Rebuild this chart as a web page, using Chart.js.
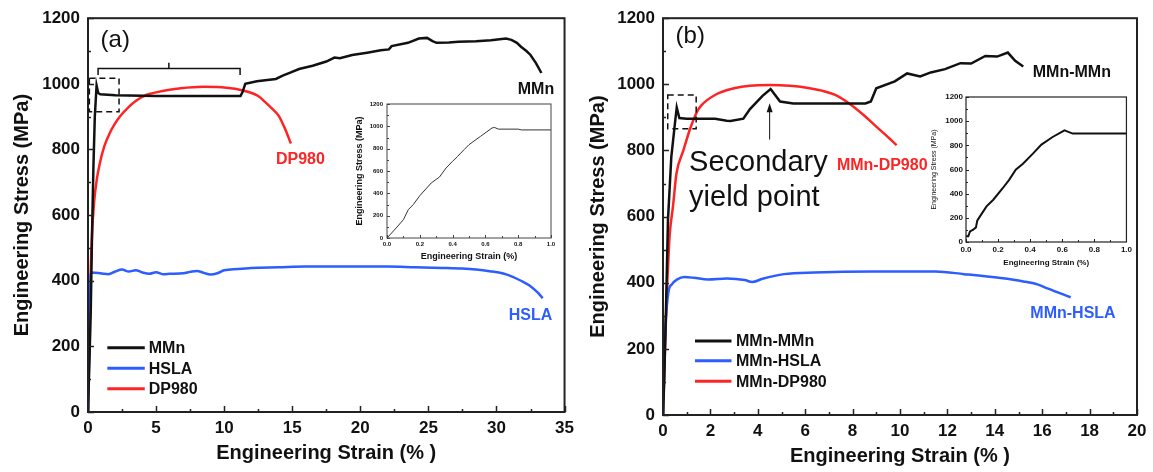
<!DOCTYPE html>
<html>
<head>
<meta charset="utf-8">
<script src="https://cdn.jsdelivr.net/npm/chart.js@4.4.1/dist/chart.umd.min.js"></script>
<style>
  body { margin: 0; background: #fff; }
  #wrap { position: relative; width: 1153px; height: 472px; overflow: hidden; }
  canvas { position: absolute; }
</style>
</head>
<body>
<div id="wrap">
  <canvas id="chartA" width="580" height="472" style="left:0;top:0"></canvas>
  <canvas id="chartB" width="573" height="472" style="left:580px;top:0"></canvas>
  <canvas id="insetA" width="215" height="175" style="left:345px;top:92px"></canvas>
  <canvas id="insetB" width="215" height="185" style="left:920px;top:85px"></canvas>
</div>
<script>
// (a) single sheets
const mmnStrain = [0, 0.2, 0.3, 0.4, 0.5, 0.63, 0.75, 0.9, 2, 5, 8, 11.2, 11.35, 11.55, 12.4, 13.8, 14.3, 14.9, 15.5, 16.5, 17.5, 18.1, 18.5, 19.4, 20.5, 21.5, 22.1, 22.3, 23.5, 24.3, 24.9, 25.3, 25.6, 26.5, 27.2, 28.5, 29.6, 30.7, 31.1, 31.5, 31.8, 32.2, 32.5, 32.9, 33.3];
const mmnStress = [0, 300, 550, 750, 900, 995, 972, 968, 965, 963, 963, 963, 975, 1000, 1008, 1015, 1025, 1035, 1045, 1055, 1068, 1080, 1078, 1088, 1095, 1102, 1105, 1115, 1125, 1138, 1140, 1130, 1125, 1126, 1128, 1130, 1133, 1138, 1134, 1125, 1113, 1100, 1088, 1063, 1033];
const hslaStrain = [0, 0.1, 0.15, 0.2, 0.3, 1, 1.5, 2, 2.5, 3, 3.5, 4, 4.5, 5, 5.5, 6, 7, 7.5, 8, 8.5, 9, 9.5, 10, 11, 12, 14, 16, 20, 22, 24, 26, 27.5, 28.5, 29.5, 30.5, 31.2, 31.8, 32.4, 33, 33.4];
const hslaStress = [0, 200, 350, 420, 425, 422, 420, 428, 434, 428, 432, 425, 421, 426, 420, 421, 423, 427, 430, 424, 419, 423, 432, 436, 439, 441, 443, 443, 443, 441, 439, 437, 434, 429, 422, 412, 400, 386, 365, 347];
const dpStrain = [0, 0.1, 0.2, 0.3, 0.45, 0.65, 0.87, 1.2, 1.6, 2.0, 2.33, 3, 3.5, 4.27, 5, 6, 6.7, 8.4, 9.5, 10.3, 11.06, 11.8, 12.5, 13, 13.5, 14, 14.5, 14.9];
const dpStress = [0, 250, 430, 545, 640, 710, 758, 810, 850, 880, 900, 930, 948, 966, 974, 982, 986, 991, 990, 987, 983, 975, 963, 945, 925, 903, 860, 818];

// (b) joints
const mmStrain = [0, 0.05, 0.12, 0.21, 0.35, 0.5, 0.58, 0.69, 1, 2.2, 2.69, 2.85, 3.39, 3.67, 4.2, 4.54, 4.94, 5.5, 8.54, 8.77, 9.0, 9.78, 10.3, 10.85, 11.3, 11.9, 12.55, 13.0, 13.6, 14.1, 14.55, 14.86, 15.2];
const mmStress = [0, 100, 300, 590, 780, 880, 930, 898, 896, 896, 890, 889, 896, 925, 965, 986, 948, 942, 942, 948, 988, 1009, 1033, 1024, 1036, 1046, 1064, 1063, 1086, 1084, 1096, 1071, 1054];
const mhStrain = [0, 0.05, 0.1, 0.15, 0.25, 0.37, 0.6, 0.9, 1.3, 1.9, 2.7, 3.45, 3.76, 4.2, 5.1, 6.4, 8.85, 11.5, 12.7, 14.25, 15.2, 15.8, 16.25, 17.2];
const mhStress = [0, 150, 260, 320, 380, 395, 410, 417, 415, 410, 413, 408, 402, 412, 426, 431, 434, 434, 426, 414, 404, 395, 382, 356];
const mdStrain = [0, 0.05, 0.1, 0.18, 0.26, 0.3, 0.42, 0.57, 0.86, 1.14, 1.42, 1.6, 2.25, 3, 3.67, 4.5, 5.36, 5.8, 6.7, 7.33, 7.9, 8.5, 9.0, 9.47, 9.86];
const mdStress = [0, 120, 240, 400, 520, 560, 630, 731, 800, 865, 915, 935, 970, 988, 996, 998, 996, 993, 981, 966, 940, 905, 872, 842, 816];

// insets: elastic part, strain 0-1 %
const insetAStrain = [0, 0.05, 0.1, 0.13, 0.16, 0.2, 0.27, 0.32, 0.36, 0.4, 0.43, 0.47, 0.5, 0.57, 0.64, 0.655, 0.68, 0.8, 0.82, 1.0];
const insetAStress = [0, 80, 164, 254, 299, 379, 493, 546, 627, 687, 730, 791, 836, 910, 985, 990, 975, 975, 968, 968];
const insetBStrain = [0, 0.014, 0.025, 0.045, 0.062, 0.07, 0.087, 0.128, 0.17, 0.23, 0.27, 0.31, 0.355, 0.417, 0.47, 0.54, 0.614, 0.63, 0.665, 1.0];
const insetBStress = [47, 47, 88, 102, 121, 176, 212, 295, 350, 447, 516, 599, 648, 731, 806, 869, 924, 916, 897, 897];

const FONT = '"Liberation Sans", Arial, sans-serif';
const BLACK = '#111111';
const RED = '#ff2424';
const BLUE = '#2d5cff';

const pts = (xs, ys) => xs.map((x, i) => ({ x: x, y: ys[i] }));

function steps(max, step) {
    const out = [];
    for (let v = 0; v <= max + 1e-9; v += step) out.push(+v.toFixed(4));
    return out;
}

// box around plot + inward tick marks
const frame = {
    id: 'frame',
    afterDatasetsDraw(chart, args, o) {
        const { ctx, chartArea: a, scales: { x, y } } = chart;
        ctx.save();
        ctx.strokeStyle = o.color;
        ctx.lineWidth = o.width;
        ctx.strokeRect(a.left, a.top, a.width, a.height);
        ctx.lineWidth = o.tickWidth;
        ctx.beginPath();
        steps(o.xMax, o.xMinor).forEach(v => {
            const px = Math.round(x.getPixelForValue(v)) + 0.5;
            const len = Math.abs(v / o.xMajor - Math.round(v / o.xMajor)) < 1e-6 ? o.major : o.minor;
            ctx.moveTo(px, a.bottom); ctx.lineTo(px, a.bottom - len);
        });
        steps(o.yMax, o.yMinor).forEach(v => {
            const py = Math.round(y.getPixelForValue(v)) + 0.5;
            const len = Math.abs(v / o.yMajor - Math.round(v / o.yMajor)) < 1e-6 ? o.major : o.minor;
            ctx.moveTo(a.left, py); ctx.lineTo(a.left + len, py);
        });
        ctx.stroke();
        ctx.restore();
    }
};

// labels, legend, dashed box, bracket, arrow
const notes = {
    id: 'notes',
    afterDraw(chart, args, o) {
        const { ctx, scales: { x, y } } = chart;
        const X = v => x.getPixelForValue(v);
        const Y = v => y.getPixelForValue(v);
        ctx.save();
        ctx.textBaseline = 'middle';
        (o.texts || []).forEach(t => {
            ctx.font = t.font;
            ctx.fillStyle = t.color;
            ctx.textAlign = t.align || 'center';
            ctx.fillText(t.text, X(t.x), Y(t.y));
        });
        if (o.legend) {
            const L = o.legend;
            chart.data.datasets.forEach((ds, i) => {
                const yy = Y(L.y[i]);
                ctx.strokeStyle = ds.borderColor;
                ctx.lineWidth = 3;
                ctx.beginPath();
                ctx.moveTo(X(L.x0), yy); ctx.lineTo(X(L.x1), yy);
                ctx.stroke();
                ctx.fillStyle = BLACK;
                ctx.font = 'bold 16px ' + FONT;
                ctx.textAlign = 'left';
                ctx.fillText(ds.label, X(L.tx), yy + 1);
            });
        }
        if (o.box) {
            const b = o.box;
            ctx.strokeStyle = BLACK;
            ctx.lineWidth = 1.5;
            ctx.setLineDash([6, 4]);
            ctx.strokeRect(X(b.x0), Y(b.y1), X(b.x1) - X(b.x0), Y(b.y0) - Y(b.y1));
            ctx.setLineDash([]);
        }
        if (o.bracket) {
            const b = o.bracket;
            ctx.strokeStyle = BLACK;
            ctx.lineWidth = 1.5;
            ctx.beginPath();
            ctx.moveTo(X(b.x0), Y(b.yEnd)); ctx.lineTo(X(b.x0), Y(b.y));
            ctx.lineTo(X(b.x1), Y(b.y)); ctx.lineTo(X(b.x1), Y(b.yEnd));
            ctx.moveTo(X(b.xm), Y(b.y)); ctx.lineTo(X(b.xm), Y(b.yTop));
            ctx.stroke();
        }
        if (o.arrow) {
            const r = o.arrow;
            const ax = X(r.x), ay0 = Y(r.y0), ay1 = Y(r.y1);
            ctx.strokeStyle = BLACK;
            ctx.fillStyle = BLACK;
            ctx.lineWidth = 1;
            ctx.beginPath();
            ctx.moveTo(ax, ay0); ctx.lineTo(ax, ay1 + 6);
            ctx.stroke();
            ctx.beginPath();
            ctx.moveTo(ax, ay1); ctx.lineTo(ax - 3, ay1 + 9); ctx.lineTo(ax + 3, ay1 + 9);
            ctx.closePath();
            ctx.fill();
        }
        ctx.restore();
    }
};

function line(label, xs, ys, color, width, smooth) {
    return {
        label: label,
        data: pts(xs, ys),
        borderColor: color,
        borderWidth: width,
        pointRadius: 0,
        fill: false,
        tension: 0,
        cubicInterpolationMode: smooth ? 'monotone' : 'default'
    };
}

function axis(min, max, step, title, tickFont, titleFont, pad, titlePad, size, isY, fmt) {
    return {
        type: 'linear',
        min: min,
        max: max,
        grid: { display: false, drawTicks: false },
        border: { display: false },
        ticks: {
            stepSize: step,
            autoSkip: false,
            maxRotation: 0,
            padding: pad,
            color: BLACK,
            font: tickFont,
            callback: fmt || (v => v)
        },
        title: { display: true, text: title, color: BLACK, font: titleFont, padding: titlePad },
        afterFit: s => { if (isY) s.width = size; else s.height = size; }
    };
}

function build(id, datasets, sc, pad, frameOpts, noteOpts) {
    return new Chart(document.getElementById(id), {
        type: 'line',
        data: { datasets: datasets },
        options: {
            responsive: false,
            animation: false,
            events: [],
            layout: { padding: pad },
            scales: sc,
            plugins: {
                legend: { display: false },
                tooltip: { enabled: false },
                frame: frameOpts,
                notes: noteOpts
            }
        },
        plugins: [frame, notes]
    });
}

const tickBig = { family: FONT, size: 17, weight: 'bold' };
const titleBig = { family: FONT, size: 20, weight: 'bold' };
const labelFont = 'bold 16px ' + FONT;

// ---- panel (a)
build('chartA', [
    line('MMn', mmnStrain, mmnStress, BLACK, 2.5, false),
    line('HSLA', hslaStrain, hslaStress, BLUE, 2.5, true),
    line('DP980', dpStrain, dpStress, RED, 2.5, true)
], {
    x: axis(0, 35, 5, 'Engineering Strain (% )', tickBig, titleBig, 6, { top: 0, bottom: 7 }, 60, false),
    y: axis(0, 1200, 200, 'Engineering Stress (MPa)', tickBig, titleBig, 8, { top: 10, bottom: 0 }, 88, true)
}, { top: 13, right: 11, left: 0, bottom: 0 },
{ color: '#222', width: 2, tickWidth: 1.5, major: 6, minor: 3, xMax: 35, xMajor: 5, xMinor: 2.5, yMax: 1200, yMajor: 200, yMinor: 100 },
{
    texts: [
        { text: '(a)', x: 2.0, y: 1131, font: '24px ' + FONT, color: BLACK },
        { text: 'MMn', x: 32.9, y: 983, font: labelFont, color: BLACK },
        { text: 'DP980', x: 15.6, y: 770, font: labelFont, color: RED },
        { text: 'HSLA', x: 32.5, y: 295, font: labelFont, color: BLUE }
    ],
    legend: { x0: 1.42, x1: 4.17, tx: 4.46, y: [196, 133, 71] },
    box: { x0: 0.1, x1: 2.28, y0: 915, y1: 1017 },
    bracket: { x0: 0.74, x1: 11.17, xm: 5.94, y: 1047, yEnd: 1027, yTop: 1064 }
});

// ---- panel (b)
build('chartB', [
    line('MMn-MMn', mmStrain, mmStress, BLACK, 2.5, false),
    line('MMn-HSLA', mhStrain, mhStress, BLUE, 2.5, true),
    line('MMn-DP980', mdStrain, mdStress, RED, 2.5, true)
], {
    x: axis(0, 20, 2, 'Engineering Strain (% )', tickBig, titleBig, 6, { top: 0, bottom: 4 }, 57, false),
    y: axis(0, 1200, 200, 'Engineering Stress (MPa)', tickBig, titleBig, 8, { top: 6, bottom: 0 }, 83, true)
}, { top: 13, right: 16, left: 0, bottom: 0 },
{ color: '#222', width: 2, tickWidth: 1.5, major: 6, minor: 3, xMax: 20, xMajor: 2, xMinor: 1, yMax: 1200, yMajor: 200, yMinor: 100 },
{
    texts: [
        { text: '(b)', x: 1.15, y: 1146, font: '24px ' + FONT, color: BLACK },
        { text: 'MMn-MMn', x: 17.25, y: 1035, font: labelFont, color: BLACK },
        { text: 'MMn-DP980', x: 9.25, y: 755, font: labelFont, color: RED },
        { text: 'MMn-HSLA', x: 17.3, y: 308, font: labelFont, color: BLUE },
        { text: 'Secondary', x: 1.1, y: 761, font: '29px ' + FONT, color: BLACK, align: 'left' },
        { text: 'yield point', x: 1.1, y: 657, font: '29px ' + FONT, color: BLACK, align: 'left' }
    ],
    legend: { x0: 1.35, x1: 2.89, tx: 3.08, y: [224, 164, 102] },
    box: { x0: 0.2, x1: 1.4, y0: 866, y1: 968 },
    arrow: { x: 4.5, y0: 833, y1: 943 }
});

// ---- insets
const oneDec = v => v.toFixed(1);
build('insetA', [line('MMn', insetAStrain, insetAStress, '#333', 1, false)], {
    x: axis(0, 1, 0.2, 'Engineering Strain (%)', { family: FONT, size: 6, weight: 'bold' }, { family: FONT, size: 9, weight: 'bold' }, 3, { top: 0, bottom: 5 }, 29, false, oneDec),
    y: axis(0, 1200, 200, 'Engineering Stress (MPa)', { family: FONT, size: 6, weight: 'bold' }, { family: FONT, size: 9, weight: 'bold' }, 4, { top: 9, bottom: 0 }, 42, true)
}, { top: 12, right: 9, left: 0, bottom: 0 },
{ color: '#444', width: 1, tickWidth: 1, major: 3, minor: 2, xMax: 1, xMajor: 0.2, xMinor: 0.1, yMax: 1200, yMajor: 200, yMinor: 100 },
{});

build('insetB', [line('MMn-MMn', insetBStrain, insetBStress, BLACK, 2, false)], {
    x: axis(0, 1, 0.2, 'Engineering Strain (%)', { family: FONT, size: 8, weight: 'bold' }, { family: FONT, size: 8, weight: 'bold' }, 3, { top: 0, bottom: 2 }, 28, false, oneDec),
    y: axis(0, 1200, 200, 'Engineering Stress (MPa)', { family: FONT, size: 8, weight: 'bold' }, { family: FONT, size: 7, weight: 'normal' }, 3, { top: 10, bottom: 0 }, 46, true)
}, { top: 12, right: 8, left: 0, bottom: 0 },
{ color: '#222', width: 1.2, tickWidth: 1, major: 3, minor: 2, xMax: 1, xMajor: 0.2, xMinor: 0.1, yMax: 1200, yMajor: 200, yMinor: 100 },
{});
</script>
</body>
</html>
